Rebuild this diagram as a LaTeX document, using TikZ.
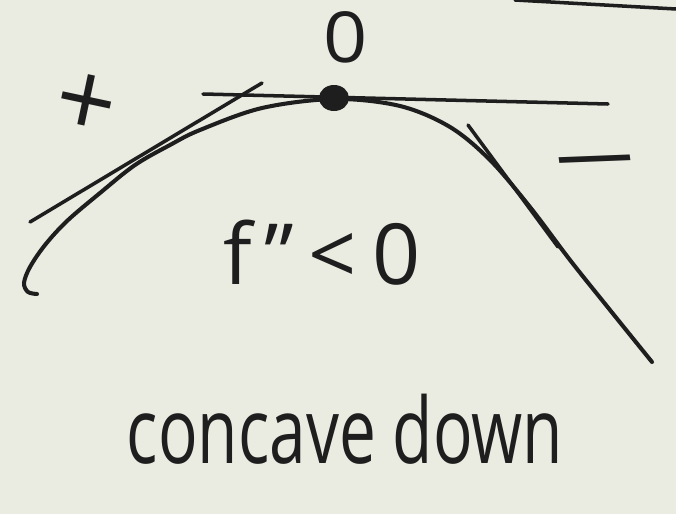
\documentclass[tikz,border=0pt]{standalone}
\usepackage{fontspec}
\setmainfont{Open Sans}
\usetikzlibrary{positioning}
\definecolor{paper}{HTML}{EAEBE1}
\definecolor{ink}{HTML}{1E1E1E}

\begin{document}
\begin{tikzpicture}[
  x=0.02cm, y=-0.02cm,
  stroke/.style={draw=ink, line width=2.3pt, line cap=round, line join=round},
  tangent/.style={draw=ink, line width=2pt, line cap=round},
  label/.style={text=ink, inner sep=0pt, transform shape}
]
% paper
\fill[paper] (0,0) rectangle (676,514);
\useasboundingbox (0,0) rectangle (676,514);

% points on the graph
\coordinate (peak) at (334,98);
\coordinate (ltA) at (30,222);
\coordinate (ltB) at (262,83);
\coordinate (htA) at (203,94);
\coordinate (htB) at (608,104);
\coordinate (rtA) at (468,125);
\coordinate (rtB) at (558,247);
\coordinate (edgeA) at (515,0);
\coordinate (edgeB) at (676,9);

% the concave-down curve
\draw[stroke] plot[smooth, tension=0.55] coordinates {
  (37,294) (28,292) (24,283) (30,267) (45,245) (67,221) (100,193)
  (135,165) (170,145) (200,130) (262,108) (335,99) (400,106)
  (450,127) (490,160) (530,207) (570,260) (610,310) (652,362)};

% tangent lines
\draw[tangent] (ltA) -- (ltB);
\draw[tangent] (htA) -- (htB);
\draw[tangent] (rtA) -- (rtB);
\draw[tangent] (edgeA) -- (edgeB);

% point of zero slope
\fill[ink] (peak) ellipse [x radius=15, y radius=13];

% labels
\node[label, font=\fontsize{40}{46}\selectfont, xscale=1.1] (zero) at (346,37) {0};
\node[label, font=\fontsize{60}{66}\selectfont, rotate=-12] (plus) at (86,106) {+};
\node[label, font=\fontsize{48}{54}\selectfont, xscale=1.8, rotate=4] (minus) at (597,173) {−};
\node[label, font=\fontsize{48}{54}\selectfont, anchor=base] (cond) at (322,284) {f\kern7pt''\kern8pt<\kern9pt0};
\node[label, font=\fontsize{52}{58}\selectfont, xscale=0.72, anchor=base] (name) at (345,463) {concave down};
\end{tikzpicture}
\end{document}
